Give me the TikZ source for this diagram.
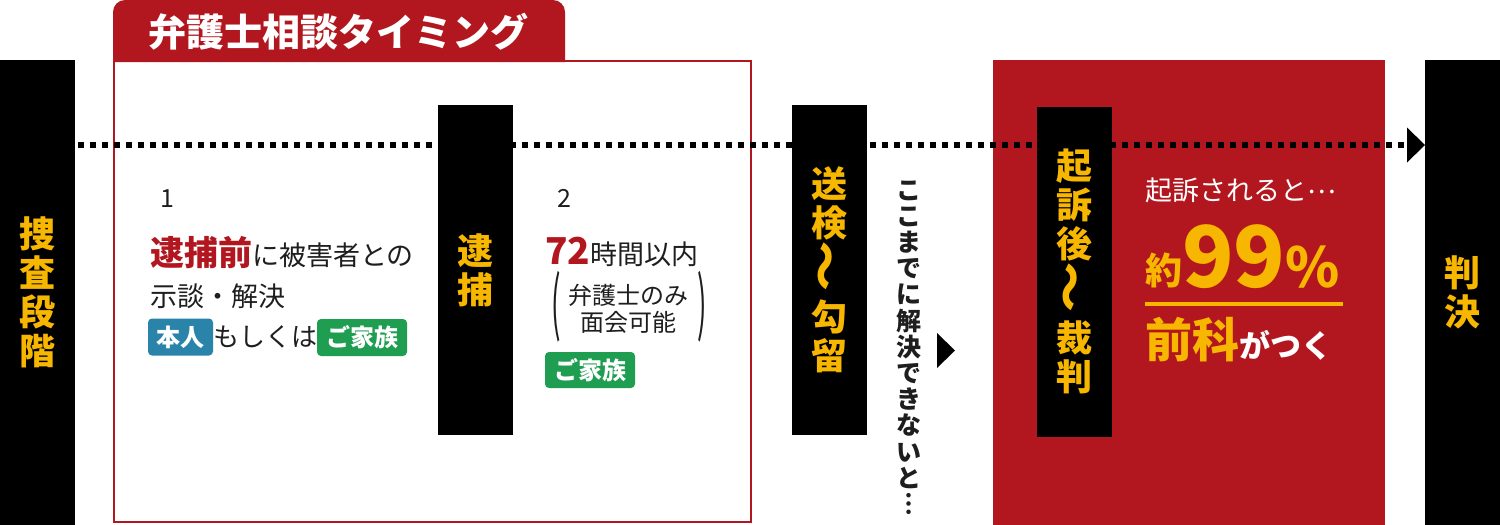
\documentclass[tikz,border=0pt]{standalone}
\usepackage{fontspec}
\usepackage{graphicx}
\usetikzlibrary{arrows.meta}
\newfontfamily\jp{Noto Sans CJK JP}
\definecolor{mred}{HTML}{B2171F}
\definecolor{yel}{HTML}{F7B600}
\definecolor{tblue}{HTML}{2A84AA}
\definecolor{tgreen}{HTML}{1F9E52}
\definecolor{txt}{HTML}{1E1E1E}
\newcommand{\vwave}{\rotatebox{90}{\scalebox{1.4}[1.2]{～}}}
\tikzset{
  stagebar/.style={fill=black, minimum width=75pt, inner sep=0pt, text=yel, align=center,
    font=\jp\bfseries\fontsize{36}{39}\selectfont},
  tagbox/.style={rounded corners=4pt, inner sep=0pt, text=white, minimum height=37pt,
    font=\jp\bfseries\fontsize{24}{24}\selectfont},
  body/.style={inner sep=0pt, text=txt, font=\jp\fontsize{27}{27}\selectfont},
  dotline/.style={line width=6pt, dash pattern=on 6pt off 6pt, black},
}
\begin{document}
\begin{tikzpicture}[x=1pt,y=-1pt]
\useasboundingbox (0,0) rectangle (1500,525);
\fill[white] (0,0) rectangle (1500,525);

% consultation box
\fill[mred] (113,62) [rounded corners=12pt] -- (113,0) -- (565,0) [sharp corners] -- (565,62) -- cycle;
\draw[mred, line width=2pt] (114,61) rectangle (751,522);
\node[inner sep=0pt, text=white, font=\jp\bfseries\fontsize{38}{38}\selectfont] (title) at (338,32) {弁護士相談タイミング};

% red indictment box
\fill[mred] (993,60) rectangle (1385,525);

% timeline
\coordinate (dstart) at (78,145);
\coordinate (dend) at (1425,145);
\draw[dotline, -{Triangle[length=18pt, width=35pt, line width=0pt]}] (dstart) -- (dend);

% stage bars
\node[stagebar, minimum height=465pt] (sousa) at (37.5,292.5) {捜\\査\\段\\階};
\node[stagebar, minimum height=330pt] (taiho) at (475.5,270) {逮\\捕};
\node[stagebar, minimum height=330pt] (souken) at (829.5,270) {送\\検\\\vwave\\勾\\留};
\node[stagebar, minimum height=330pt] (kiso) at (1074.5,271.5) {起\\訴\\後\\\vwave\\裁\\判};
\node[stagebar, minimum height=465pt] (hanketsu) at (1462.5,292.5) {判\\決};

% section 1
\node[body, font=\jp\fontsize{25}{25}\selectfont] (n1) at (167,199) {1};
\node[body, anchor=base west] (l1) at (150,265) {{\color{mred}\bfseries\fontsize{34}{34}\selectfont 逮捕前}に被害者との};
\node[body, anchor=base west] (l2) at (150,306) {示談・解決};
\node[tagbox, fill=tblue, minimum width=65pt] (honnin) at (180.5,337) {本人};
\node[body, font=\jp\fontsize{26}{26}\selectfont] (moshi) at (265,337) {もしくは};
\node[tagbox, fill=tgreen, minimum width=90pt] (kazoku1) at (362,337.5) {ご家族};

% section 2
\node[body, font=\jp\fontsize{25}{25}\selectfont] (n2) at (564,198) {2};
\node[body, anchor=base west] (l3) at (545,264) {{\color{mred}\bfseries\fontsize{37}{37}\selectfont 72}時間以内};
\node[body, font=\jp\fontsize{28}{28}\selectfont] (lp) at (556,307) {\scalebox{1}[2.5]{(}};
\node[body, align=center, font=\jp\fontsize{24}{26.5}\selectfont] (bengo) at (628,309) {弁護士のみ\\面会可能};
\node[body, font=\jp\fontsize{28}{28}\selectfont] (rp) at (702,307) {\scalebox{1}[2.5]{)}};
\node[tagbox, fill=tgreen, minimum width=90pt, minimum height=36pt] (kazoku2) at (590,370) {ご家族};

% middle note
\node[body, align=center, font=\jp\bfseries\fontsize{25}{26.2}\selectfont] (koko) at (909,347.5)
  {こ\\こ\\ま\\で\\に\\解\\決\\で\\き\\な\\い\\と\\︙};
\fill[black] (937,333) -- (955,350.5) -- (937,368) -- cycle;

% indictment text
\node[body, anchor=base west, text=white] (kisosare) at (1145,200) {起訴されると\raisebox{7pt}{…}};
\node[inner sep=0pt, anchor=base west, text=yel, font=\jp\bfseries] (pct) at (1145,287)
  {\raisebox{2.5pt}{\fontsize{37}{37}\selectfont 約}{\fontsize{85}{85}\selectfont 99}{\fontsize{55}{55}\selectfont\%}};
\draw[yel, line width=4pt] (1145,304) -- (1343,304);
\node[inner sep=0pt, anchor=base west, font=\jp\bfseries] (zenka) at (1145,357)
  {{\color{yel}\fontsize{47}{47}\selectfont 前科}{\color{white}\fontsize{31}{31}\selectfont がつく}};
\end{tikzpicture}
\end{document}
